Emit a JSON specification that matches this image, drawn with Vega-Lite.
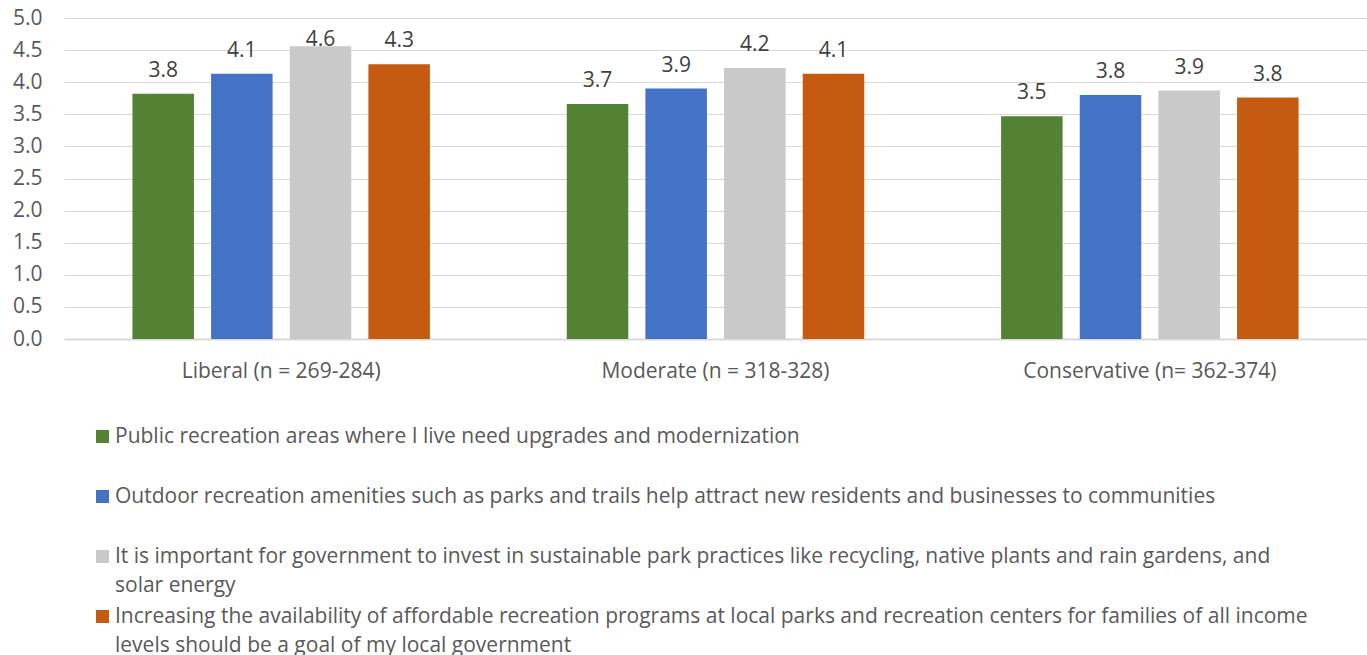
{
  "$schema": "https://vega.github.io/schema/vega-lite/v6.json",
  "width": 1303,
  "height": 321,
  "autosize": {"type": "none"},
  "padding": {"left": 64, "top": 18, "right": 0, "bottom": 316},
  "background": "white",
  "config": {
    "view": {"stroke": null},
    "font": "Open Sans",
    "style": {"guide-label": {"lineHeight": 29}}
  },
  "data": {
    "values": [
      {"group": "Liberal (n = 269-284)", "statement": "Public recreation areas where I live need upgrades and modernization", "value": 3.82},
      {"group": "Liberal (n = 269-284)", "statement": "Outdoor recreation amenities such as parks and trails help attract new residents and businesses to communities", "value": 4.13},
      {"group": "Liberal (n = 269-284)", "statement": "It is important for government to invest in sustainable park practices like recycling, native plants and rain gardens, and solar energy", "value": 4.56},
      {"group": "Liberal (n = 269-284)", "statement": "Increasing the availability of affordable recreation programs at local parks and recreation centers for families of all income levels should be a goal of my local government", "value": 4.28},
      {"group": "Moderate (n = 318-328)", "statement": "Public recreation areas where I live need upgrades and modernization", "value": 3.66},
      {"group": "Moderate (n = 318-328)", "statement": "Outdoor recreation amenities such as parks and trails help attract new residents and businesses to communities", "value": 3.9},
      {"group": "Moderate (n = 318-328)", "statement": "It is important for government to invest in sustainable park practices like recycling, native plants and rain gardens, and solar energy", "value": 4.22},
      {"group": "Moderate (n = 318-328)", "statement": "Increasing the availability of affordable recreation programs at local parks and recreation centers for families of all income levels should be a goal of my local government", "value": 4.13},
      {"group": "Conservative (n= 362-374)", "statement": "Public recreation areas where I live need upgrades and modernization", "value": 3.47},
      {"group": "Conservative (n= 362-374)", "statement": "Outdoor recreation amenities such as parks and trails help attract new residents and businesses to communities", "value": 3.8},
      {"group": "Conservative (n= 362-374)", "statement": "It is important for government to invest in sustainable park practices like recycling, native plants and rain gardens, and solar energy", "value": 3.87},
      {"group": "Conservative (n= 362-374)", "statement": "Increasing the availability of affordable recreation programs at local parks and recreation centers for families of all income levels should be a goal of my local government", "value": 3.76}
    ]
  },
  "encoding": {
    "x": {
      "field": "group",
      "type": "nominal",
      "sort": ["Liberal (n = 269-284)", "Moderate (n = 318-328)", "Conservative (n= 362-374)"],
      "scale": {"paddingInner": 0, "paddingOuter": 0},
      "axis": {
        "title": null,
        "labelAngle": 0,
        "ticks": false,
        "tickSize": 0,
        "labelPadding": 21,
        "labelFontSize": 21,
        "labelLimit": 600,
        "labelColor": "#595959",
        "domainColor": "#D9D9D9",
        "domainWidth": 2,
        "grid": false
      }
    },
    "xOffset": {
      "field": "statement",
      "type": "nominal",
      "sort": [
        "Public recreation areas where I live need upgrades and modernization",
        "Outdoor recreation amenities such as parks and trails help attract new residents and businesses to communities",
        "It is important for government to invest in sustainable park practices like recycling, native plants and rain gardens, and solar energy",
        "Increasing the availability of affordable recreation programs at local parks and recreation centers for families of all income levels should be a goal of my local government"
      ],
      "scale": {"paddingInner": 0.218, "paddingOuter": 0.87}
    },
    "y": {
      "field": "value",
      "type": "quantitative",
      "scale": {"domain": [0, 5], "nice": false},
      "axis": {
        "title": null,
        "domain": false,
        "ticks": false,
        "tickSize": 0,
        "labelPadding": 22,
        "labelFontSize": 21,
        "labelColor": "#595959",
        "gridColor": "#D9D9D9",
        "gridWidth": 1,
        "values": [0, 0.5, 1, 1.5, 2, 2.5, 3, 3.5, 4, 4.5, 5],
        "format": ".1f"
      }
    }
  },
  "layer": [
    {
      "mark": {"type": "bar"},
      "encoding": {
        "color": {
          "field": "statement",
          "type": "nominal",
          "scale": {
            "domain": [
              "Public recreation areas where I live need upgrades and modernization",
              "Outdoor recreation amenities such as parks and trails help attract new residents and businesses to communities",
              "It is important for government to invest in sustainable park practices like recycling, native plants and rain gardens, and solar energy",
              "Increasing the availability of affordable recreation programs at local parks and recreation centers for families of all income levels should be a goal of my local government"
            ],
            "range": ["#548235", "#4472C4", "#C9C9C9", "#C55A11"]
          },
          "legend": {
            "title": null,
            "orient": "none",
            "legendX": 28,
            "legendY": 408,
            "direction": "vertical",
            "padding": 0,
            "symbolType": "square",
            "symbolSize": 169,
            "symbolStrokeWidth": 0,
            "labelFontSize": 21,
            "labelColor": "#595959",
            "labelLimit": 1300,
            "labelOffset": 2,
            "rowPadding": 9,
            "gridAlign": "all",
            "labelBaseline": "middle",
            "labelExpr": "indexof(datum.label, 'It is important') == 0 ? ['It is important for government to invest in sustainable park practices like recycling, native plants and rain gardens, and', 'solar energy'] : indexof(datum.label, 'Increasing the') == 0 ? ['Increasing the availability of affordable recreation programs at local parks and recreation centers for families of all income', 'levels should be a goal of my local government'] : [datum.label, '']"
          }
        }
      }
    },
    {
      "mark": {"type": "text", "baseline": "alphabetic", "dy": {"expr": "datum.value > 4.5 ? 0 : -17"}, "fontSize": 21, "color": "#404040"},
      "encoding": {
        "text": {"field": "value", "type": "quantitative", "format": ".1f"}
      }
    }
  ]
}
